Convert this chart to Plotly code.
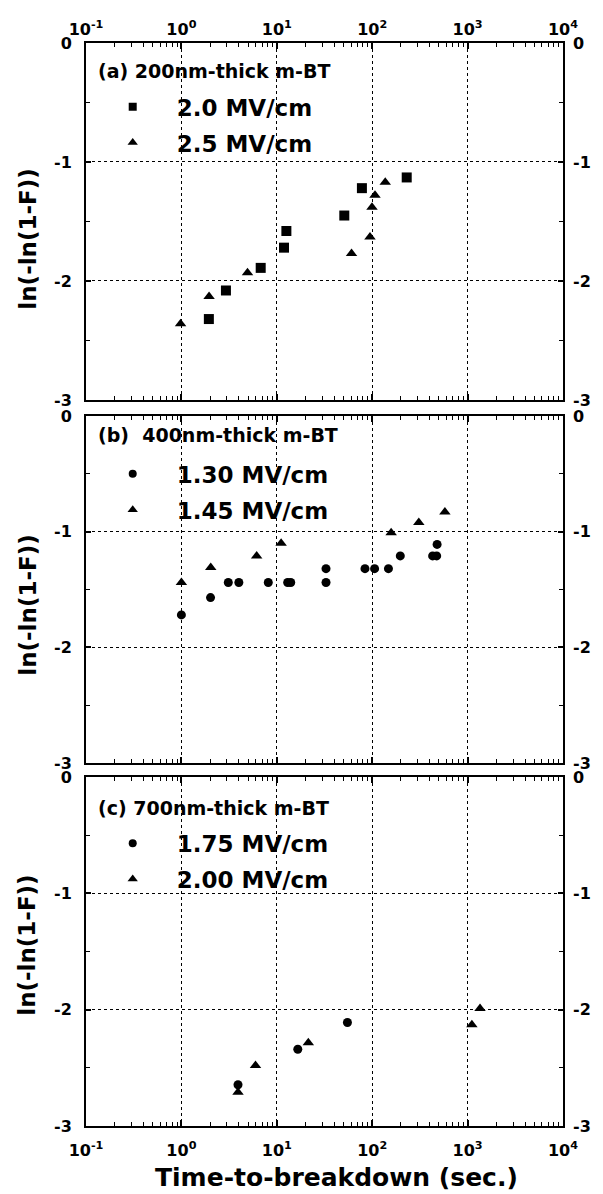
import plotly.graph_objects as go

# ---- data: time-to-breakdown (s) and Weibull ordinate ln(-ln(1-F)) ----
# (a) 200 nm-thick m-BT
a_20_t = [1.94, 2.93, 6.78, 11.9, 12.6, 51, 78, 230]
a_20_w = [-2.32, -2.08, -1.89, -1.72, -1.58, -1.45, -1.22, -1.13]
a_25_t = [0.98, 1.95, 4.93, 60.7, 94.8, 99.5, 107, 137]
a_25_w = [-2.36, -2.13, -1.93, -1.77, -1.63, -1.38, -1.28, -1.17]

# (b) 400 nm-thick m-BT
b_130_t = [1.0, 2.02, 3.1, 4.0, 8.14, 13.0, 14.0, 32.8, 32.8, 84, 106, 148, 197, 430, 474, 479]
b_130_w = [-1.72, -1.57, -1.44, -1.44, -1.44, -1.44, -1.44, -1.44, -1.32, -1.32, -1.32,
           -1.32, -1.21, -1.21, -1.21, -1.11]
b_145_t = [1.0, 2.03, 6.15, 11.1, 158, 308, 578]
b_145_w = [-1.44, -1.31, -1.21, -1.10, -1.01, -0.92, -0.83]

# (c) 700 nm-thick m-BT
c_175_t = [3.92, 16.6, 55]
c_175_w = [-2.645, -2.34, -2.11]
c_200_t = [3.92, 5.98, 21.4, 1109, 1350]
c_200_w = [-2.71, -2.48, -2.285, -2.13, -1.99]

panel_titles = ["(a) 200nm-thick m-BT", "(b)  400nm-thick m-BT", "(c) 700nm-thick m-BT"]
y_title = "ln(-ln(1-F))"
x_title = "Time-to-breakdown (sec.)"

x_tickvals = [0.1, 1, 10, 100, 1000, 10000]
x_ticktext = ["10<sup>-1</sup>", "10<sup>0</sup>", "10<sup>1</sup>", "10<sup>2</sup>",
              "10<sup>3</sup>", "10<sup>4</sup>"]
x_minor = [m * 10 ** k for k in range(-1, 4) for m in range(2, 10)]
y_tickvals = [0, -1, -2, -3]
y_ticktext = ["0", "-1", "-2", "-3"]
y_minor = [-0.5, -1.5, -2.5]

FONT = "DejaVu Sans"
BLACK = "black"

series = [
    # (panel index, times, values, symbol, size, label)
    (0, a_20_t, a_20_w, "square", 10, "2.0 MV/cm"),
    (0, a_25_t, a_25_w, "triangle-up", 10, "2.5 MV/cm"),
    (1, b_130_t, b_130_w, "circle", 9, "1.30 MV/cm"),
    (1, b_145_t, b_145_w, "triangle-up", 10, "1.45 MV/cm"),
    (2, c_175_t, c_175_w, "circle", 9, "1.75 MV/cm"),
    (2, c_200_t, c_200_w, "triangle-up", 10, "2.00 MV/cm"),
]
legend_sizes = {"square": 8, "circle": 8, "triangle-up": 9}

fig = go.Figure()
legend_ids = ["legend", "legend2", "legend3"]
for i, (p, t, w, sym, sz, lab) in enumerate(series):
    xa = "x" if p == 0 else f"x{p + 1}"
    ya = "y" if p == 0 else f"y{p + 1}"
    fig.add_trace(go.Scatter(
        x=t, y=w, mode="markers", xaxis=xa, yaxis=ya, showlegend=False,
        marker=dict(symbol=sym, size=sz, color=BLACK, line=dict(width=0)),
        hoverinfo="x+y"))
    # legend key with a smaller marker
    fig.add_trace(go.Scatter(
        x=[None], y=[None], mode="markers", xaxis=xa, yaxis=ya,
        name="\u00a0\u00a0\u00a0" + lab, legend=legend_ids[p], legendgroup=f"g{i}",
        marker=dict(symbol=sym, size=legend_sizes[sym], color=BLACK, line=dict(width=0))))

domains = [[0.6704, 1.0], [0.3352, 0.6556], [0.0, 0.3223]]
tick_font = dict(family=FONT, size=16, color=BLACK, weight="bold")

layout = dict(
    width=603, height=1194,
    margin=dict(l=86, r=35, t=43, b=68),
    paper_bgcolor="white", plot_bgcolor="white",
    font=dict(family=FONT, color=BLACK),
)

for p in range(3):
    sx = "" if p == 0 else str(p + 1)
    ya_name = "y" if p == 0 else f"y{p + 1}"
    xa_name = "x" if p == 0 else f"x{p + 1}"
    layout["xaxis" + sx] = dict(
        type="log", range=[-1, 4], domain=[0, 1], anchor=ya_name,
        side="top" if p == 0 else "bottom",
        showticklabels=(p != 1),
        tickvals=x_tickvals, ticktext=x_ticktext, tickfont=tick_font,
        ticks="inside", ticklen=6, tickwidth=1.5, tickcolor=BLACK,
        ticklabelstandoff=0 if p == 0 else 9,
        minor=dict(tickvals=x_minor, ticks="inside", ticklen=4, tickwidth=1.2,
                   tickcolor=BLACK, showgrid=False),
        showline=True, linewidth=2, linecolor=BLACK, mirror="ticks",
        showgrid=True, gridcolor=BLACK, gridwidth=1, griddash="dot",
        zeroline=False, fixedrange=True,
    )
    layout["yaxis" + sx] = dict(
        range=[-3, 0], domain=domains[p], anchor=xa_name,
        tickvals=y_tickvals, ticktext=y_ticktext, tickfont=tick_font,
        ticks="inside", ticklen=5, tickwidth=1.5, tickcolor=BLACK,
        ticklabelstandoff=9,
        minor=dict(tickvals=y_minor, ticks="inside", ticklen=4, tickwidth=1.2,
                   tickcolor=BLACK, showgrid=False),
        showline=True, linewidth=2, linecolor=BLACK, mirror="ticks",
        showgrid=True, gridcolor=BLACK, gridwidth=1, griddash="dot",
        zeroline=False, fixedrange=True,
    )
    # right-hand labels
    layout[f"yaxis{p + 4}"] = dict(
        range=[-3, 0], overlaying=ya_name, anchor=xa_name, side="right",
        tickvals=y_tickvals, ticktext=y_ticktext, tickfont=tick_font,
        ticks="", ticklabelstandoff=9, showline=False, showgrid=False,
        zeroline=False, fixedrange=True,
    )

fig.update_layout(**layout)

# empty traces so the right-hand axes are drawn
for p in range(3):
    xa = "x" if p == 0 else f"x{p + 1}"
    fig.add_trace(go.Scatter(x=[None], y=[None], xaxis=xa, yaxis=f"y{p + 4}",
                             showlegend=False, hoverinfo="skip"))

legend_font = dict(family=FONT, size=23, color=BLACK, weight="bold")
legend_y = [0.961, 0.622, 0.281]
for p, lid in enumerate(legend_ids):
    fig.update_layout({lid: dict(
        x=0.056, y=legend_y[p], xanchor="left", yanchor="top",
        bgcolor="rgba(0,0,0,0)", borderwidth=0, font=legend_font,
        tracegroupgap=3, itemsizing="trace")})

# panel captions
title_font = dict(family=FONT, size=19, color=BLACK, weight="bold")
title_y = [0.922, 0.945, 0.911]
for p in range(3):
    sx = "" if p == 0 else str(p + 1)
    fig.add_annotation(text=panel_titles[p], xref=f"x{sx} domain", yref=f"y{sx} domain",
                       x=0.022, y=title_y[p], xanchor="left", yanchor="middle",
                       showarrow=False, font=title_font)

# y-axis titles
ytitle_font = dict(family=FONT, size=23, color=BLACK, weight="bold")
for yc in [0.819, 0.481, 0.167]:
    fig.add_annotation(text=y_title, xref="paper", yref="paper", x=-0.1224, y=yc,
                       xanchor="center", yanchor="middle", textangle=-90,
                       showarrow=False, font=ytitle_font)

fig.add_annotation(text=x_title, xref="paper", yref="paper", x=0.526, y=-0.048,
                   xanchor="center", yanchor="middle", showarrow=False,
                   font=dict(family=FONT, size=25, color=BLACK, weight="bold"))

fig.write_html("out.html")
